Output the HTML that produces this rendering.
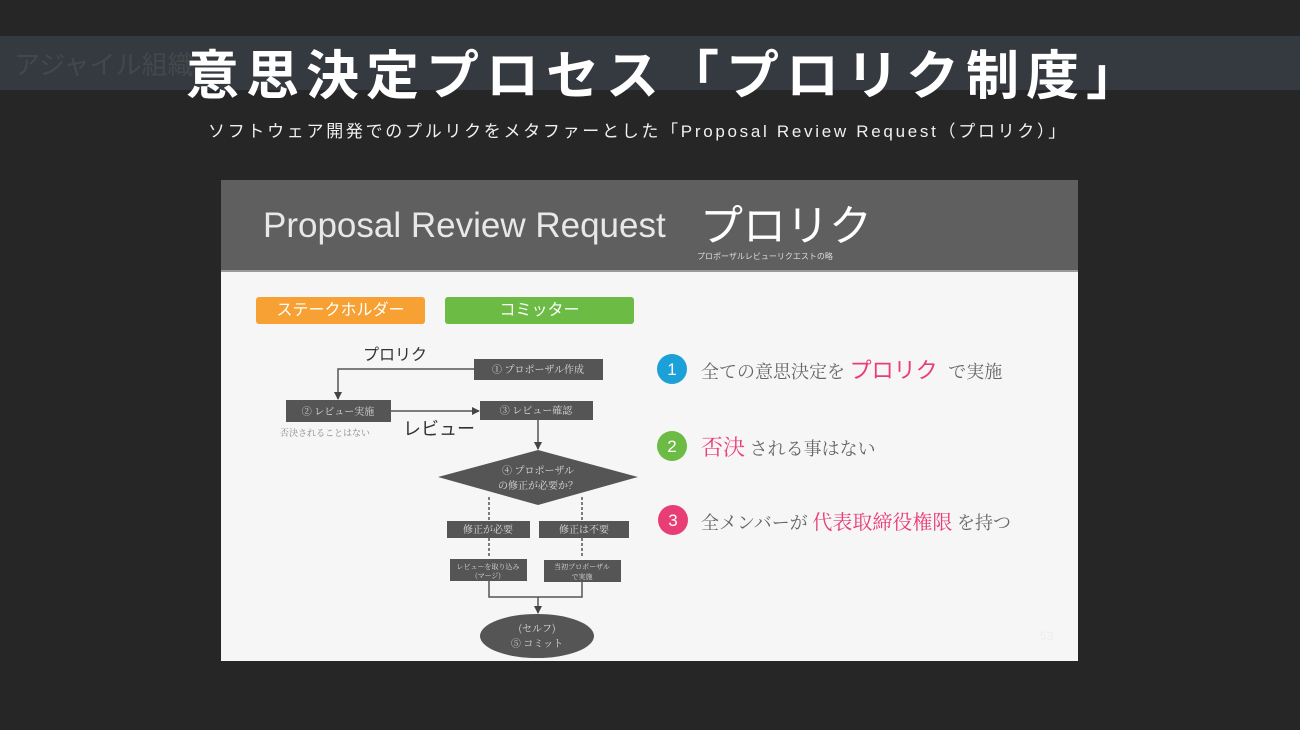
<!DOCTYPE html>
<html><head><meta charset="utf-8"><style>
body{margin:0;width:1300px;height:730px;background:#262626;position:relative;overflow:hidden;font-family:"Liberation Sans","Noto Sans CJK JP",sans-serif}
.a{position:absolute;white-space:nowrap}
</style></head><body>
<div class="a" style="left:0;top:36px;width:1300px;height:54px;background:#343a3f"></div>
<div class="a" style="left:14px;top:45px;font-size:26px;color:#45484b">アジャイル組織</div>
<div class="a" style="left:186px;top:34px;font-size:53px;font-weight:bold;color:#fff;letter-spacing:7px">意思決定プロセス「プロリク制度」</div>
<div class="a" style="left:208px;top:117px;font-size:17px;color:#f0f0f0;letter-spacing:2.7px">ソフトウェア開発でのプルリクをメタファーとした「Proposal Review Request（プロリク）」</div>

<div class="a" style="left:221px;top:180px;width:857px;height:481px;background:#f6f6f6"></div>
<div class="a" style="left:221px;top:180px;width:857px;height:90px;background:#5f5f5f;border-bottom:2px solid #9a9a9a"></div>
<div class="a" style="left:263px;top:206px;font-size:35px;color:#e8e8e8;font-weight:300">Proposal Review Request</div>
<div class="a" style="left:700px;top:192px;font-size:43px;color:#fff">プロリク</div>
<div class="a" style="left:697px;top:251px;font-size:8px;color:#ddd">プロポーザルレビューリクエストの略</div>

<div class="a" style="left:256px;top:297px;width:169px;height:27px;background:#f7a033;border-radius:3px;color:#fff;font-size:16px;text-align:center;line-height:27px">ステークホルダー</div>
<div class="a" style="left:445px;top:297px;width:189px;height:27px;background:#6cbb45;border-radius:3px;color:#fff;font-size:16px;text-align:center;line-height:27px">コミッター</div>

<svg class="a" style="left:0;top:0" width="1300" height="730">
<defs><marker id="ar" markerWidth="8" markerHeight="8" refX="7" refY="4" orient="auto" markerUnits="userSpaceOnUse"><path d="M0,0L8,4L0,8z" fill="#444"/></marker></defs>
<g stroke="#555" stroke-width="1.5" fill="none">
<path d="M474,369H338V399" marker-end="url(#ar)"/>
<path d="M391,411H479" marker-end="url(#ar)"/>
<path d="M538,420V449" marker-end="url(#ar)"/>
<path d="M489,497V520M582,497V520M489,538V558M582,538V558" stroke-dasharray="3,2"/>
<path d="M489,581V597H582V581M538,597V613" marker-end="url(#ar)"/>
</g>
<g fill="#555">
<rect x="474" y="359" width="129" height="21"/>
<rect x="286" y="400" width="105" height="22"/>
<rect x="480" y="401" width="113" height="19"/>
<polygon points="538,450 638,477 538,505 438,477"/>
<rect x="447" y="521" width="83" height="17"/>
<rect x="539" y="521" width="90" height="17"/>
<rect x="450" y="559" width="77" height="22"/>
<rect x="544" y="560" width="77" height="22"/>
<ellipse cx="537" cy="636" rx="57" ry="22"/>
</g>
<g fill="#ddd" font-size="10" text-anchor="middle" font-family="Noto Serif CJK SC, serif">
<text x="538" y="373">① プロポーザル作成</text>
<text x="338" y="415">② レビュー実施</text>
<text x="536" y="414">③ レビュー確認</text>
<text x="538" y="474">④ プロポーザル</text>
<text x="538" y="489">の修正が必要か？</text>
<text x="488" y="533">修正が必要</text>
<text x="584" y="533">修正は不要</text>
<text x="488" y="569" font-size="7">レビューを取り込み</text>
<text x="488" y="578" font-size="7">(マージ)</text>
<text x="582" y="569" font-size="7">当初プロポーザル</text>
<text x="582" y="579" font-size="7">で実施</text>
<text x="537" y="632">(セルフ)</text>
<text x="537" y="647">⑤ コミット</text>
</g>
<text x="280" y="436" font-size="9" fill="#888" font-family="Noto Serif CJK SC, serif">否決されることはない</text>
<text x="363" y="360" font-size="16" fill="#333">プロリク</text>
<text x="403" y="435" font-size="18" fill="#333">レビュー</text>
<circle cx="672" cy="369" r="15" fill="#1ba1d8"/>
<circle cx="672" cy="446" r="15" fill="#6cbb45"/>
<circle cx="673" cy="520" r="15" fill="#e93d76"/>
<g fill="#fff" font-size="17" text-anchor="middle"><text x="672" y="375">1</text><text x="672" y="452">2</text><text x="673" y="526">3</text></g>
<g font-family="Noto Serif CJK SC, serif">
<text x="701" y="378" font-size="18" fill="#666">全ての意思決定を <tspan fill="#e93d76" font-size="22" font-family="Noto Sans CJK JP">プロリク</tspan> <tspan dx="6">で実施</tspan></text>
<text x="701" y="455" font-size="18" fill="#666"><tspan fill="#e93d76" font-size="22">否決</tspan> される事はない</text>
<text x="701" y="529" font-size="18" fill="#666">全メンバーが <tspan fill="#e93d76" font-size="20">代表取締役権限</tspan> を持つ</text>
</g>
<text x="1040" y="640" font-size="12" fill="#eee">53</text>
</svg>
</body></html>
